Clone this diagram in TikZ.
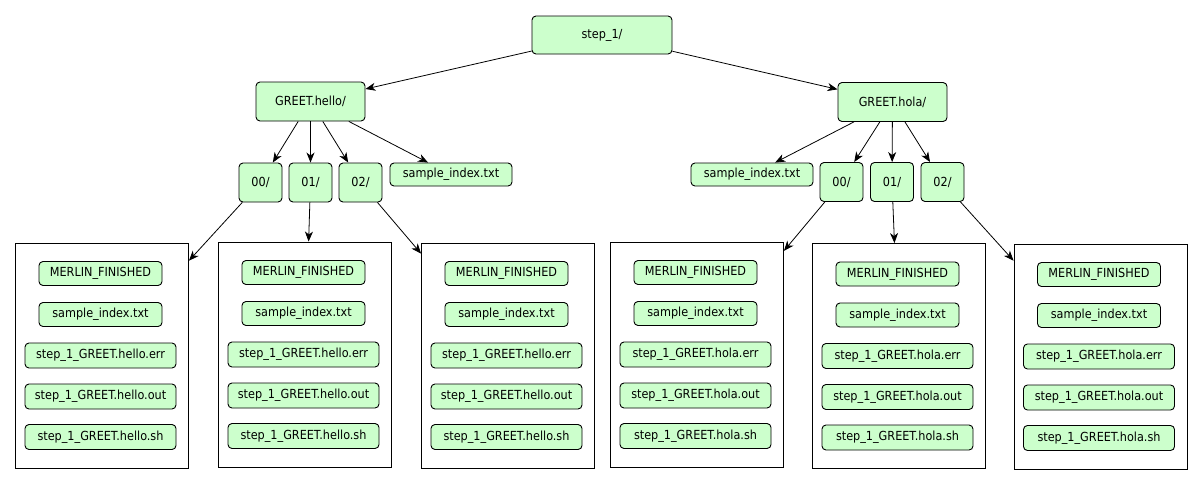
\documentclass[tikz,border=0pt]{standalone}
\usepackage{fontspec}
\setmainfont{DejaVu Sans Condensed}
\usetikzlibrary{arrows.meta}
\definecolor{filegreen}{HTML}{CCFFCC}
\begin{document}
\begin{tikzpicture}[x=1pt,y=-1pt,
  item/.style={draw=black, fill=filegreen, rounded corners=4pt, line width=0.9pt,
               inner sep=0pt, font=\fontsize{12.5}{14}\selectfont},
  dirbox/.style={item, minimum width=109pt, minimum height=39pt},
  idxbox/.style={item, minimum width=43pt, minimum height=39pt},
  leafbox/.style={item, minimum width=122pt, minimum height=23pt},
  fileA/.style={item, minimum width=123pt, minimum height=24pt},
  fileB/.style={item, minimum width=151pt, minimum height=25pt},
  folder/.style={draw=black, line width=0.9pt, minimum width=173pt,
                 minimum height=225pt, inner sep=0pt},
  conn/.style={line width=0.8pt, -{Stealth[length=10pt,width=8pt,inset=3pt]}}
]
\fill[white] (0,0) rectangle (1203,485);

% root and step directories
\node[item, minimum width=140pt, minimum height=38pt] (s) at (602,35) {step\_1/};
\node[dirbox] (h) at (310.5,101.5) {GREET.hello/};
\node[dirbox] (o) at (892.5,102) {GREET.hola/};

% sample directories and index files
\node[idxbox] (h0) at (260.5,182.5) {00/};
\node[idxbox] (h1) at (310.5,182.5) {01/};
\node[idxbox] (h2) at (360.5,182.5) {02/};
\node[leafbox] (hs) at (451,174.5) {sample\_index.txt};
\node[leafbox] (os) at (752,174.5) {sample\_index.txt};
\node[idxbox] (o0) at (841.5,182) {00/};
\node[idxbox] (o1) at (892,182) {01/};
\node[idxbox] (o2) at (942.5,182) {02/};

% contents of each sample directory
\foreach \n/\x/\y/\g in {1/102/355.5/hello, 2/305/354.5/hello, 3/508/355.5/hello,
                         4/697/354.5/hola, 5/899/356/hola, 6/1100.5/356.5/hola} {
  \node[folder] (f\n) at (\x,\y) {};
  \node[fileA] (f\n-a) at (\x-1.5,\y-82) {MERLIN\_FINISHED};
  \node[fileA] (f\n-b) at (\x-1.5,\y-41) {sample\_index.txt};
  \node[fileB] (f\n-c) at (\x-1.5,\y) {step\_1\_GREET.\g.err};
  \node[fileB] (f\n-d) at (\x-1.5,\y+41) {step\_1\_GREET.\g.out};
  \node[fileB] (f\n-e) at (\x-1.5,\y+81.5) {step\_1\_GREET.\g.sh};
}

% connectors
\draw[conn] (s) -- (h);
\draw[conn] (s) -- (o);
\draw[conn] (h) -- (h0);
\draw[conn] (h) -- (h1);
\draw[conn] (h) -- (h2);
\draw[conn] (h) -- (hs);
\draw[conn] (o) -- (os);
\draw[conn] (o) -- (o0);
\draw[conn] (o) -- (o1);
\draw[conn] (o) -- (o2);
\draw[conn] (h0) -- (f1);
\draw[conn] (h1) -- (f2);
\draw[conn] (h2) -- (f3);
\draw[conn] (o0) -- (f4);
\draw[conn] (o1) -- (f5);
\draw[conn] (o2) -- (f6);
\end{tikzpicture}
\end{document}
